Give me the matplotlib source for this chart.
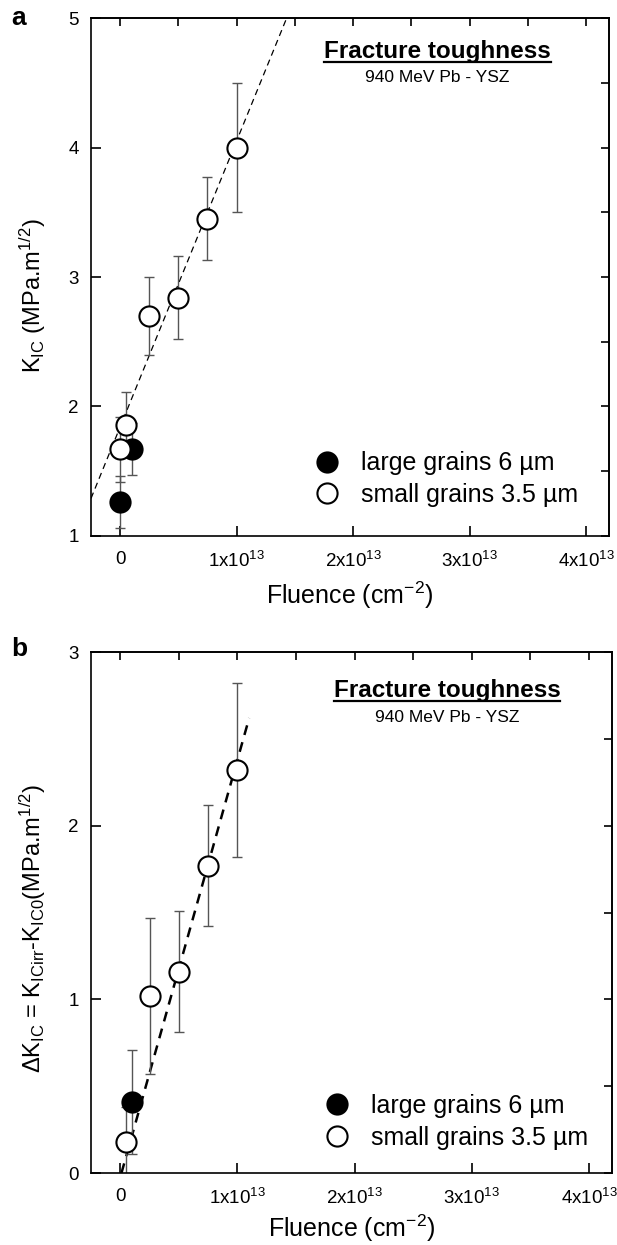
import numpy as np
import matplotlib
matplotlib.use("Agg")
from matplotlib import rc, pyplot as plt
from matplotlib.lines import Line2D

rc('font', family='Liberation Sans')
rc('mathtext', fontset='custom', rm='Liberation Sans', it='Liberation Sans:italic', bf='Liberation Sans:bold')
rc('axes', linewidth=1.2)

# ---- data (fluence in units of 1e13 cm^-2) ----
a_small_x = [0.0, 0.05, 0.25, 0.5, 0.75, 1.0]
a_small_y = [1.67, 1.86, 2.70, 2.84, 3.45, 4.00]
a_small_err = [0.25, 0.25, 0.30, 0.32, 0.32, 0.50]
a_large_x = [0.0, 0.1]
a_large_y = [1.26, 1.67]
a_large_err = [0.20, 0.20]
a_fit_x = [-0.25, 1.43]
a_fit_y = [1.29, 5.0]

b_small_x = [0.05, 0.25, 0.5, 0.75, 1.0]
b_small_y = [0.18, 1.02, 1.16, 1.77, 2.32]
b_small_err = [0.20, 0.45, 0.35, 0.35, 0.50]
b_large_x = [0.1]
b_large_y = [0.41]
b_large_err = [0.30]
b_fit_x = [0.01, 1.10]
b_fit_y = [0.0, 2.62]

xticks = [0, 1, 2, 3, 4]
xticklabels = ['0', r'1x10$^{13}$', r'2x10$^{13}$', r'3x10$^{13}$', r'4x10$^{13}$']

fig = plt.figure(figsize=(6.17, 12.45), dpi=100)
ax_a = fig.add_axes([0.1475, 0.5695, 0.840, 0.416])
ax_b = fig.add_axes([0.1475, 0.0578, 0.845, 0.4185])


def draw_points(ax, x, y, err, filled, label):
    ax.errorbar(x, y, yerr=err, fmt='none', ecolor='#555555', elinewidth=1.0,
                capsize=3.5, capthick=1.0, zorder=2)
    ax.plot(x, y, 'o', ms=14.5, mfc='black' if filled else 'white', mec='black',
            mew=1.5, ls='none', zorder=3, label=label)


def style_axes(ax, ylim, yticks, ylabel, ycoord, xpad):
    ax.set_xlim(-0.25, 4.2)
    ax.set_ylim(*ylim)
    ax.set_xticks(xticks)
    ax.set_xticklabels(xticklabels)
    ax.set_yticks(yticks)
    ax.tick_params(direction='in', length=7, width=1.2, labelsize=13.5, pad=9)
    ax.tick_params(axis='x', pad=11)
    top = ax.secondary_xaxis('top')
    top.set_xticks(np.arange(0, 4.01, 0.5))
    top.tick_params(direction='in', length=6, width=1.2, labeltop=False)
    right = ax.secondary_yaxis('right')
    right.set_yticks(np.arange(ylim[0], ylim[1] + 0.01, 0.5))
    right.tick_params(direction='in', length=6, width=1.2, labelright=False)
    ax.set_xlabel('Fluence (cm$^{-2}$)', fontsize=18, labelpad=xpad)
    ax.set_ylabel(ylabel, fontsize=17)
    ax.yaxis.set_label_coords(-0.083, ycoord)


# panel a
draw_points(ax_a, a_large_x, a_large_y, a_large_err, True, 'large grains 6 µm')
draw_points(ax_a, a_small_x, a_small_y, a_small_err, False, 'small grains 3.5 µm')
ax_a.plot(a_fit_x, a_fit_y, ls=(0, (5, 3.5)), color='black', lw=0.9, zorder=1)
style_axes(ax_a, (1, 5), [1, 2, 3, 4, 5], r'K$_{\mathrm{IC}}$ (MPa.m$^{1/2}$)', 0.465, 6)

# panel b
draw_points(ax_b, b_large_x, b_large_y, b_large_err, True, 'large grains 6 µm')
draw_points(ax_b, b_small_x, b_small_y, b_small_err, False, 'small grains 3.5 µm')
ax_b.plot(b_fit_x, b_fit_y, ls=(0, (4, 3)), color='black', lw=1.8, zorder=1)
style_axes(ax_b, (0, 3), [0, 1, 2, 3],
           r'$\Delta$K$_{\mathrm{IC}}$ = K$_{\mathrm{ICirr}}$-K$_{\mathrm{IC0}}$(MPa.m$^{1/2}$)', 0.47, 3)

for ax, lx, ly in [(ax_a, 0.431, 0.110), (ax_b, 0.448, 0.098)]:
    ax.legend(loc='center left', bbox_to_anchor=(lx, ly), frameon=False, fontsize=18,
              handlelength=1.0, handletextpad=0.85, borderpad=0, borderaxespad=0,
              labelspacing=0.3, markerscale=1.0)

titles = []
for ax, tx, ty, sy in [(ax_a, 0.668, 0.923, 0.876), (ax_b, 0.683, 0.914, 0.866)]:
    t = ax.text(tx, ty, 'Fracture toughness', transform=ax.transAxes, ha='center',
                va='baseline', fontsize=17.5, fontweight='bold')
    ax.text(tx, sy, '940 MeV Pb - YSZ', transform=ax.transAxes, ha='center',
            va='baseline', fontsize=12.5)
    titles.append(t)

fig.text(0.019, 0.980, 'a', fontsize=19, fontweight='bold', va='baseline')
fig.text(0.019, 0.473, 'b', fontsize=19, fontweight='bold', va='baseline')

# underline the titles
fig.canvas.draw()
inv = fig.transFigure.inverted()
for t in titles:
    bb = t.get_window_extent()
    x0, y0 = inv.transform((bb.x0, bb.y0 + 1))
    x1, _ = inv.transform((bb.x1, bb.y0 + 1))
    fig.add_artist(Line2D([x0, x1], [y0, y0], color='black', lw=1.6, transform=fig.transFigure))

plt.savefig('out.png', dpi=100)
